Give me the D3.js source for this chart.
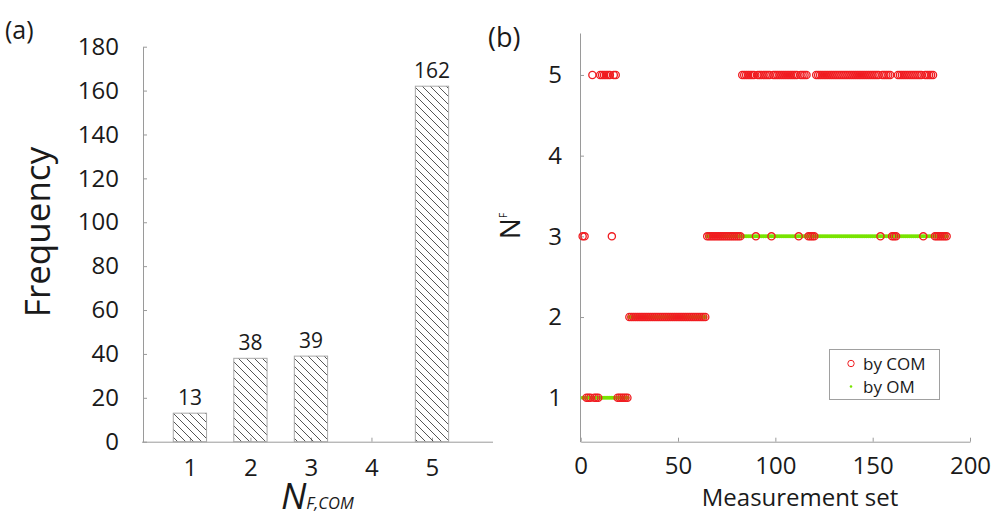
<!DOCTYPE html>
<html>
<head>
<meta charset="utf-8">
<script src="https://cdn.jsdelivr.net/npm/d3@7"></script>
<style>
body { margin: 0; background: white; }
text { font-family: "Open Sans", sans-serif; fill: #1a1a1a; }
</style>
</head>
<body>
<svg id="fig" width="997" height="519"></svg>
<script>
// left panel: histogram of N_F,COM
var nf_categories = [1, 2, 3, 4, 5];
var nf_counts = [13, 38, 39, 0, 162];
var freq_ticks = [0, 20, 40, 60, 80, 100, 120, 140, 160, 180];

// right panel: N_F for every measurement set (set number = index + 1)
var set_ticks = [0, 50, 100, 150, 200];
var nf_ticks = [1, 2, 3, 4, 5];
var nf_by_com = [
  3,3,1,1,1,5,1,1,1,5,5,5,5,5,5,3,5,5,1,1,
  1,1,1,1,2,2,2,2,2,2,2,2,2,2,2,2,2,2,2,2,
  2,2,2,2,2,2,2,2,2,2,2,2,2,2,2,2,2,2,2,2,
  2,2,2,2,3,3,3,3,3,3,3,3,3,3,3,3,3,3,3,3,
  3,3,5,5,5,5,5,5,5,3,5,5,5,5,5,5,5,3,5,5,
  5,5,5,5,5,5,5,5,5,5,5,3,5,5,5,5,3,3,3,3,
  5,5,5,5,5,5,5,5,5,5,5,5,5,5,5,5,5,5,5,5,
  5,5,5,5,5,5,5,5,5,5,5,5,5,3,5,5,5,5,5,3,
  3,3,5,5,5,5,5,5,5,5,5,5,5,5,5,3,5,5,5,5,
  5,3,3,3,3,3,3,3
];
var nf_by_om = [
  1,1,1,1,1,1,1,1,1,1,1,1,1,1,1,1,1,1,1,1,
  1,1,1,1,2,2,2,2,2,2,2,2,2,2,2,2,2,2,2,2,
  2,2,2,2,2,2,2,2,2,2,2,2,2,2,2,2,2,2,2,2,
  2,2,2,2,3,3,3,3,3,3,3,3,3,3,3,3,3,3,3,3,
  3,3,3,3,3,3,3,3,3,3,3,3,3,3,3,3,3,3,3,3,
  3,3,3,3,3,3,3,3,3,3,3,3,3,3,3,3,3,3,3,3,
  3,3,3,3,3,3,3,3,3,3,3,3,3,3,3,3,3,3,3,3,
  3,3,3,3,3,3,3,3,3,3,3,3,3,3,3,3,3,3,3,3,
  3,3,3,3,3,3,3,3,3,3,3,3,3,3,3,3,3,3,3,3,
  3,3,3,3,3,3,3,3
];

var axis_color = "#9a9a9a";
var com_color = "#f01c20";
var om_color = "#78e400";

var svg = d3.select("#fig");

// hatch for the bars: thin "\" lines
var defs = svg.append("defs");
defs.append("pattern")
  .attr("id", "hatch")
  .attr("patternUnits", "userSpaceOnUse")
  .attr("width", 8).attr("height", 8)
  .append("path")
  .attr("d", "M0,0L8,8M-4,4L4,12M4,-4L12,4")
  .attr("stroke", "#2a2a2a")
  .attr("stroke-width", 0.8);

function style_axis(g) {
  g.selectAll("path,line").attr("stroke", axis_color).attr("stroke-width", 1);
  g.selectAll("text").style("font-family", "'Open Sans', sans-serif")
    .attr("font-size", 24).attr("fill", "#1a1a1a");
}

// ---------- (a) ----------
function draw_histogram() {
  var x = d3.scaleLinear().domain([0.2, 6]).range([141.5, 492.5]);
  var y = d3.scaleLinear().domain([0, 180]).range([441.7, 46.7]);
  var bar_w = x(0.55) - x(0);

  var gy = svg.append("g").attr("transform", "translate(143,0)")
    .call(d3.axisLeft(y).tickValues(freq_ticks).tickFormat(d3.format("d"))
      .tickSizeInner(-4).tickSizeOuter(0).tickPadding(24));
  style_axis(gy);

  var gx = svg.append("g").attr("transform", "translate(0," + y(0) + ")")
    .call(d3.axisBottom(x).tickValues(nf_categories).tickFormat(d3.format("d"))
      .tickSizeInner(-4).tickSizeOuter(0).tickPadding(17));
  style_axis(gx);

  var data = nf_categories.map(function(c, i) { return {cat: c, n: nf_counts[i]}; })
    .filter(function(d) { return d.n > 0; });

  svg.selectAll("rect.bar").data(data).enter().append("rect")
    .attr("class", "bar")
    .attr("x", function(d) { return x(d.cat) - bar_w / 2; })
    .attr("y", function(d) { return y(d.n); })
    .attr("width", bar_w)
    .attr("height", function(d) { return y(0) - y(d.n); })
    .attr("fill", "url(#hatch)")
    .attr("stroke", "#a8a8a8")
    .attr("stroke-width", 1);

  svg.selectAll("text.count").data(data).enter().append("text")
    .attr("class", "count")
    .attr("x", function(d) { return x(d.cat); })
    .attr("y", function(d) { return y(d.n) - 8; })
    .attr("text-anchor", "middle")
    .attr("font-size", 21)
    .text(function(d) { return d.n; });

  svg.append("text")
    .attr("transform", "translate(50,232) rotate(-90)")
    .attr("text-anchor", "middle")
    .attr("font-size", 35)
    .text("Frequency");

  var xl = svg.append("text").attr("x", 281).attr("y", 509).attr("font-style", "italic");
  xl.append("tspan").attr("font-size", 36).text("N");
  xl.append("tspan").attr("font-size", 16.5).text("F,COM");

  svg.append("text").attr("x", 5).attr("y", 39).attr("font-size", 25).text("(a)");
}

// ---------- (b) ----------
function draw_scatter() {
  var x = d3.scaleLinear().domain([0, 200]).range([580.7, 970]);
  var y = d3.scaleLinear().domain([0.455, 5.52]).range([441.7, 33]);

  var gy = svg.append("g").attr("transform", "translate(580,0)")
    .call(d3.axisLeft(y).tickValues(nf_ticks).tickFormat(d3.format("d"))
      .tickSizeInner(-4).tickSizeOuter(0).tickPadding(18));
  style_axis(gy);

  var gx = svg.append("g").attr("transform", "translate(0," + y.range()[0] + ")")
    .call(d3.axisBottom(x).tickValues(set_ticks).tickFormat(d3.format("d"))
      .tickSizeInner(-4).tickSizeOuter(0).tickPadding(15));
  style_axis(gx);

  var om = nf_by_om.map(function(v, i) { return {set: i + 1, nf: v}; });
  var com = nf_by_com.map(function(v, i) { return {set: i + 1, nf: v}; });

  svg.append("g").selectAll("circle").data(om).enter().append("circle")
    .attr("cx", function(d) { return x(d.set); })
    .attr("cy", function(d) { return y(d.nf); })
    .attr("r", 2)
    .attr("fill", om_color);

  svg.append("g").selectAll("circle").data(com).enter().append("circle")
    .attr("cx", function(d) { return x(d.set); })
    .attr("cy", function(d) { return y(d.nf); })
    .attr("r", 3.6)
    .attr("fill", "none")
    .attr("stroke", com_color)
    .attr("stroke-width", 1.3);

  // legend
  var lg = svg.append("g");
  lg.append("rect").attr("x", 829.5).attr("y", 349.5).attr("width", 110).attr("height", 50)
    .attr("fill", "white").attr("stroke", "#a0a0a0");
  lg.append("circle").attr("cx", 851).attr("cy", 363.5).attr("r", 3.2)
    .attr("fill", "none").attr("stroke", com_color).attr("stroke-width", 1);
  lg.append("circle").attr("cx", 851).attr("cy", 386.5).attr("r", 1.3).attr("fill", om_color);
  lg.append("text").attr("x", 863).attr("y", 369.5).attr("font-size", 17).text("by COM");
  lg.append("text").attr("x", 863).attr("y", 392.5).attr("font-size", 17).text("by OM");

  svg.append("text")
    .attr("x", 800).attr("y", 506)
    .attr("text-anchor", "middle")
    .attr("font-size", 24)
    .text("Measurement set");

  var yl = svg.append("text").attr("transform", "translate(520,226) rotate(-90)")
    .attr("text-anchor", "middle");
  yl.append("tspan").attr("font-size", 28).text("N");
  yl.append("tspan").attr("font-size", 10).attr("dy", -13).text("F");

  svg.append("text").attr("x", 488).attr("y", 47).attr("font-size", 27).text("(b)");
}

draw_histogram();
draw_scatter();
</script>
</body>
</html>
